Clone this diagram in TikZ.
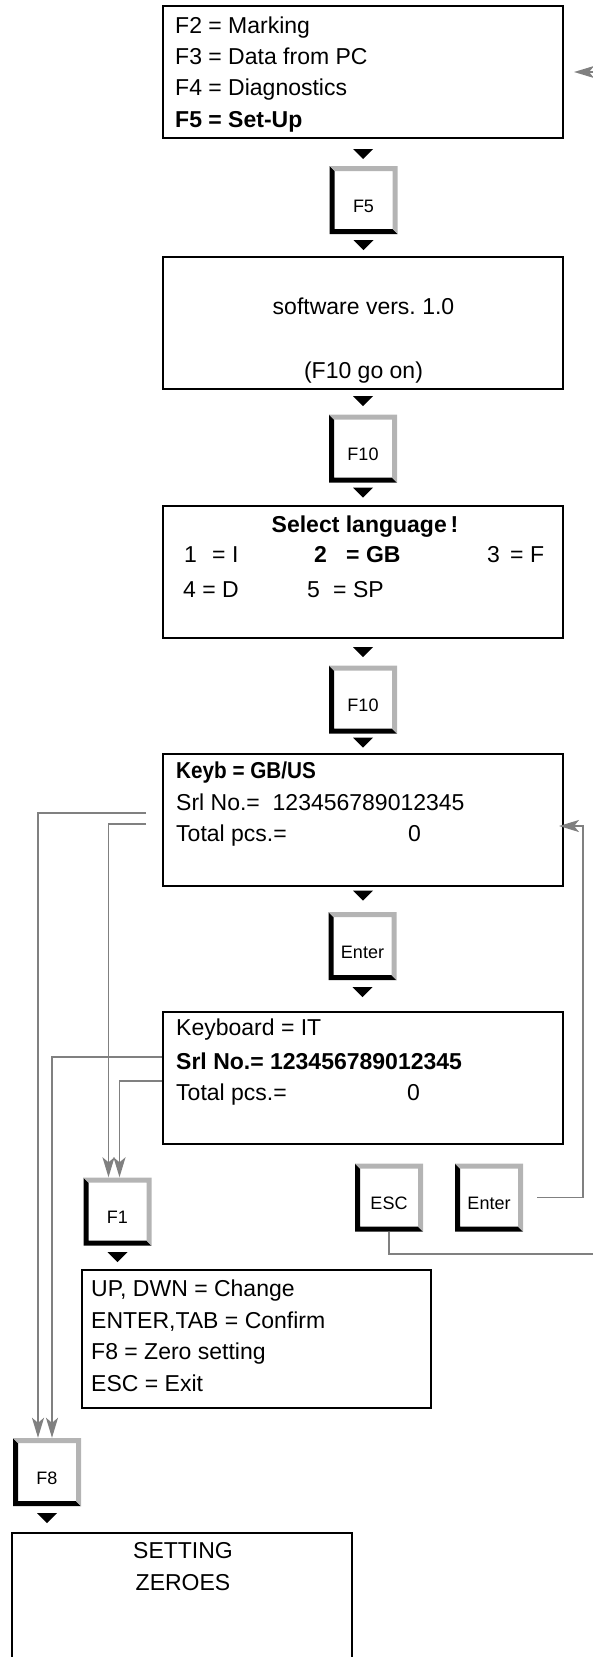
\documentclass[tikz,border=0pt]{standalone}
\usepackage{fontspec}
\setmainfont{Liberation Sans}
\usetikzlibrary{arrows.meta}
\definecolor{linegray}{RGB}{128,128,128}
\definecolor{keygray}{RGB}{180,180,180}
\newcommand{\downtri}[1]{\fill (#1) ++(-10pt,0pt) -- ++(20pt,0pt) -- ++(-10pt,-10pt) -- cycle;}
\frenchspacing
\begin{document}
\begin{tikzpicture}[x=1pt,y=-1pt,
  screen/.style={draw,line width=2pt,minimum width=400pt,minimum height=132pt,inner sep=0pt},
  keycap/.style={fill=white,minimum width=68pt,minimum height=68pt,inner sep=0pt,
    font=\fontsize{18}{18}\selectfont,text height=24.5pt,text depth=0pt,
    path picture={
      \coordinate (kNW) at (path picture bounding box.north west);
      \coordinate (kNE) at (path picture bounding box.north east);
      \coordinate (kSW) at (path picture bounding box.south west);
      \coordinate (kSE) at (path picture bounding box.south east);
      \fill[black] (kNW) -- (kSW) -- (kSE) -- ([shift={(-5pt,5pt)}]kSE)
        -- ([shift={(5pt,5pt)}]kSW) -- ([shift={(5pt,-5pt)}]kNW) -- cycle;
      \fill[keygray] (kNW) -- (kNE) -- (kSE) -- ([shift={(-5pt,5pt)}]kSE)
        -- ([shift={(-5pt,-5pt)}]kNE) -- ([shift={(5pt,-5pt)}]kNW) -- cycle;
    }},
  txt/.style={anchor=base west,inner sep=0pt,font=\fontsize{23}{23}\selectfont},
  ctxt/.style={anchor=base,inner sep=0pt,font=\fontsize{23}{23}\selectfont},
  link/.style={draw=linegray,line width=1.8pt,-{Stealth[length=20pt,width=12pt,inset=5pt,fill=linegray]}}
]
\useasboundingbox (0,0) rectangle (593,1657);

\node[screen] (menu) at (363,72) {};
\node[txt] (m2) at (175,33) {F2 = Marking};
\node[txt] (m3) at (175,64) {F3 = Data from PC};
\node[txt] (m4) at (175,95.5) {F4 = Diagnostics};
\node[txt] (m5) at (175,127) {\textbf{F5 = Set-Up}};
\downtri{[yshift=-10pt]menu.south}

\node[keycap] (f5) at (363.5,200) {F5};
\downtri{[yshift=-6pt]f5.south}

\node[screen] (softw) at (363,323) {};
\node[ctxt] (s1) at (363.5,314) {software vers. 1.0};
\node[ctxt] (s2) at (363.5,378) {(F10 go on)};
\downtri{[yshift=-6pt]softw.south}

\node[keycap] (f10a) at (363,448.5) {F10};
\downtri{[yshift=-5pt]f10a.south}

\node[screen] (lang) at (363,572) {};
\node[ctxt] (l0) at (365,532) {\textbf{Select language\,!}};
\node[txt] (l1) at (184,562) {1};
\node[txt] (l1b) at (212,562) {= I};
\node[txt] (l2) at (314,562) {\textbf{2}};
\node[txt] (l2b) at (346,562) {\textbf{= GB}};
\node[txt] (l3) at (487,562) {3};
\node[txt] (l3b) at (510,562) {= F};
\node[txt] (l4) at (183,597) {4 = D};
\node[txt] (l5) at (307,597) {5};
\node[txt] (l5b) at (333,597) {= SP};
\downtri{[yshift=-8pt]lang.south}

\node[keycap] (f10b) at (363,699.5) {F10};
\downtri{[yshift=-4pt]f10b.south}

\node[screen] (keyb) at (363,819.5) {};
\node[txt] (k1) at (176,778) {\textbf{\scalebox{0.9}[1]{Keyb = GB/US}}};
\node[txt] (k2) at (176,810) {Srl No.=\ \ 123456789012345};
\node[txt] (k3) at (176,841) {Total pcs.=};
\node[txt] (k3b) at (408,841) {0};
\downtri{[yshift=-4pt]keyb.south}

\node[keycap] (enter) at (362.5,946) {Enter};
\downtri{[yshift=-7pt]enter.south}

\node[screen] (keybd) at (363,1077.5) {};
\node[txt] (d1) at (176,1035) {Keyboard = IT};
\node[txt] (d2) at (176,1069) {\textbf{Srl No.= 123456789012345}};
\node[txt] (d3) at (176,1100) {Total pcs.=};
\node[txt] (d3b) at (407,1100) {0};

\node[keycap] (f1) at (117.5,1211.5) {F1};
\node[keycap] (esc) at (389,1197.5) {ESC};
\node[keycap] (enter2) at (489,1197.5) {Enter};
\downtri{[yshift=-6.5pt]f1.south}

\node[screen,minimum width=349pt,minimum height=138pt] (edit) at (256.5,1339) {};
\node[txt] (e1) at (91,1296) {UP, DWN = Change};
\node[txt] (e2) at (91,1328) {ENTER,TAB = Confirm};
\node[txt] (e3) at (91,1359) {F8 = Zero setting};
\node[txt] (e4) at (91,1391) {ESC = Exit};

\node[keycap] (f8) at (47,1472) {F8};
\downtri{[yshift=-7pt]f8.south}

\node[screen,minimum width=340pt,minimum height=135pt] (zero) at (182,1600.5) {};
\node[ctxt] (z1) at (183,1558) {SETTING};
\node[ctxt] (z2) at (183,1590) {ZEROES};

\draw[link] ([shift={(-16pt,6.5pt)}]keyb.west) -| ([xshift=-9pt]f8.north);
\draw[link] ([shift={(-16pt,-4.5pt)}]keyb.west) -| ([xshift=-9pt]f1.north);
\draw[link] ([yshift=20.5pt]keybd.west) -| ([xshift=5pt]f8.north);
\draw[link] ([yshift=-3.5pt]keybd.west) -| ([xshift=2pt]f1.north);
\draw[link] ([xshift=14pt]enter2.east) -- ++(46,0) |- ([shift={(-5pt,-6.5pt)}]keyb.east);
\draw[link] (esc.south) |- (597,1254) -- (597,72) -- ([xshift=10pt]menu.east);
\end{tikzpicture}
\end{document}
